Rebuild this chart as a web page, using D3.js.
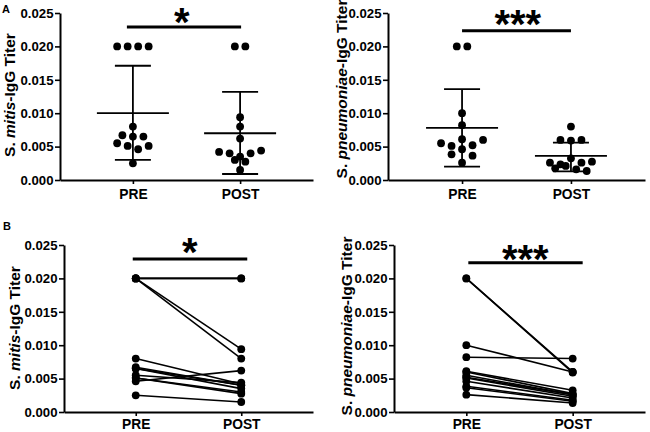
<!DOCTYPE html>
<html><head><meta charset="utf-8">
<script src="https://cdn.jsdelivr.net/npm/d3@7"></script>
<style>
body{margin:0;background:#fff}
svg{display:block}
text{font-family:"Liberation Sans",Arial,sans-serif;font-weight:bold;fill:#000}
</style>
</head><body>
<svg id="c" width="650" height="432"></svg>
<script>
// ---------------- data ----------------
const groups = ["PRE", "POST"];
const yTicks = [0, 0.005, 0.010, 0.015, 0.020, 0.025];

const mitisPre  = [0.020, 0.020, 0.020, 0.020, 0.0080, 0.0067, 0.0065, 0.0065, 0.0055, 0.0051, 0.0046, 0.0051, 0.0025];
const mitisPost = [0.020, 0.020, 0.0094, 0.0080, 0.0042, 0.0040, 0.0035, 0.0040, 0.0044, 0.0030, 0.0062, 0.00275, 0.0015];
const mitisMean = [0.0100, 0.0070];
const mitisLow  = [0.0030, 0.0009];
const mitisHigh = [0.0171, 0.0132];

const pnPre  = [0.020, 0.020, 0.0100, 0.0082, 0.0055, 0.0051, 0.0061, 0.0052, 0.0060, 0.00385, 0.0046, 0.00364, 0.0026];
const pnPost = [0.0060, 0.0059, 0.0060, 0.0080, 0.0026, 0.00235, 0.00325, 0.0026, 0.00275, 0.00175, 0.0021, 0.0016, 0.00135];
const pnMean = [0.0078, 0.0036];
const pnLow  = [0.0020, 0.0013];
const pnHigh = [0.0136, 0.0056];

const panelLetters = ["A", "B"];
const yLabels = [["S. ", "mitis", "-IgG Titer"], ["S. ", "pneumoniae", "-IgG Titer"]];
const sigLabels = ["*", "***"];
const sigLevel = [0.0229, 0.02235];

// ---------------- drawing ----------------
const svg = d3.select("#c");

function rowSwarm(values, y, step, thresh) {
  const order = d3.range(values.length).sort((a, b) => d3.descending(values[a], values[b]) || a - b);
  const rows = [];
  let cur = null;
  order.forEach(i => {
    if (!cur || y(values[i]) - y(values[cur[0]]) > thresh) { cur = [i]; rows.push(cur); }
    else cur.push(i);
  });
  const off = new Array(values.length).fill(0);
  rows.forEach(r => {
    r.sort((a, b) => a - b);
    r.forEach((i, k) => { off[i] = (k - (r.length - 1) / 2) * step; });
  });
  return off;
}

function panel(cfg) {
  const g = svg.append("g");
  const x = d3.scalePoint().domain(groups).range([cfg.x0, cfg.x1]).padding(0.68);
  const y = d3.scaleLinear().domain([0, 0.025]).range([cfg.yb, cfg.yt]);

  const ya = g.append("g").attr("transform", `translate(${cfg.x0},0)`)
    .call(d3.axisLeft(y).tickValues(yTicks).tickFormat(d3.format(".3f")).tickSize(5).tickSizeOuter(0).tickPadding(1.5));
  const xa = g.append("g").attr("transform", `translate(0,${cfg.yb})`)
    .call(d3.axisBottom(x).tickSize(4).tickSizeOuter(0).tickPadding(cfg.xpad));
  [ya, xa].forEach(a => {
    a.select(".domain").attr("stroke", "#000").attr("stroke-width", 2);
    a.selectAll(".tick line").attr("stroke", "#000").attr("stroke-width", 1.6);
    a.selectAll(".tick text").attr("font-family", '"Liberation Sans",Arial,sans-serif').attr("font-weight", "bold").attr("fill", "#000");
  });
  ya.selectAll(".tick text").attr("font-size", 13.2);
  xa.selectAll(".tick text").attr("font-size", 13.8);

  // y label
  const lab = g.append("text")
    .attr("transform", `translate(${cfg.x0 - cfg.labOff},${cfg.labY}) rotate(-90)`)
    .attr("text-anchor", "middle").attr("font-size", 15.5);
  const parts = yLabels[cfg.sp];
  lab.append("tspan").text(parts[0]);
  lab.append("tspan").attr("font-style", "italic").text(parts[1]);
  lab.append("tspan").text(parts[2]);

  const pre = cfg.pre, post = cfg.post;
  const r = 3.9;
  if (cfg.mode === "scatter") {
    const sets = [pre, post];
    sets.forEach((vals, gi) => {
      const cx = x(groups[gi]);
      const m = cfg.mean[gi], lo = cfg.low[gi], hi = cfg.high[gi];
      g.append("line").attr("x1", cx).attr("x2", cx).attr("y1", y(lo)).attr("y2", y(hi)).attr("stroke", "#000").attr("stroke-width", 1.8);
      g.append("line").attr("x1", cx - 36).attr("x2", cx + 36).attr("y1", y(m)).attr("y2", y(m)).attr("stroke", "#000").attr("stroke-width", 1.8);
      [lo, hi].forEach(v => g.append("line").attr("x1", cx - 18).attr("x2", cx + 18).attr("y1", y(v)).attr("y2", y(v)).attr("stroke", "#000").attr("stroke-width", 1.8));
      const off = rowSwarm(vals, y, 10.5, 7.5);
      g.selectAll(null).data(vals).join("circle")
        .attr("cx", (d, i) => cx + off[i]).attr("cy", d => y(d)).attr("r", r).attr("fill", "#000");
    });
  } else {
    g.selectAll(null).data(pre).join("line")
      .attr("x1", x("PRE")).attr("x2", x("POST"))
      .attr("y1", d => y(d)).attr("y2", (d, i) => y(post[i]))
      .attr("stroke", "#000").attr("stroke-width", 1.6);
    [pre, post].forEach((vals, gi) => {
      g.selectAll(null).data(vals).join("circle")
        .attr("cx", x(groups[gi])).attr("cy", d => y(d)).attr("r", r).attr("fill", "#000");
    });
  }

  // significance
  const by = y(sigLevel[cfg.sp]);
  const bx0 = x("PRE") + cfg.b0, bx1 = x("POST") + cfg.b1;
  g.append("line").attr("x1", bx0).attr("x2", bx1).attr("y1", by).attr("y2", by).attr("stroke", "#000").attr("stroke-width", 3);
  const st = g.append("text").attr("x", 0).attr("y", by + cfg.sy)
    .attr("text-anchor", "start").attr("font-size", 40).text(sigLabels[cfg.sp]);
  const bb = st.node().getBBox();
  const target = (bx0 + bx1) / 2 + cfg.sx;
  st.attr("x", target - bb.width / 2);
}

panel({x0: 60, x1: 313, yt: 13, yb: 180, xpad: 5, labOff: 45.5, labY: 95, sp: 0, mode: "scatter",
  pre: mitisPre, post: mitisPost, mean: mitisMean, low: mitisLow, high: mitisHigh, b0: -6, b1: 1, sx: -2, sy: 8.8});
panel({x0: 388, x1: 645, yt: 13, yb: 180, xpad: 5, labOff: 41, labY: 89, sp: 1, mode: "scatter",
  pre: pnPre, post: pnPost, mean: pnMean, low: pnLow, high: pnHigh, b0: 0, b1: 0, sx: 1.5, sy: 7.3});
panel({x0: 64, x1: 313, yt: 245, yb: 412, xpad: 3.5, labOff: 44.5, labY: 328, sp: 0, mode: "paired",
  pre: mitisPre, post: mitisPost, b0: -3, b1: 6, sx: 0, sy: 6.8});
panel({x0: 394, x1: 645, yt: 245, yb: 412, xpad: 3.5, labOff: 42, labY: 326, sp: 1, mode: "paired",
  pre: pnPre, post: pnPost, b0: 2, b1: 10, sx: 0, sy: 10.3});

// panel letters
svg.append("text").attr("x", 2).attr("y", 13).attr("font-size", 11).text(panelLetters[0]);
svg.append("text").attr("x", 3).attr("y", 230).attr("font-size", 11).text(panelLetters[1]);
</script>
</body></html>
